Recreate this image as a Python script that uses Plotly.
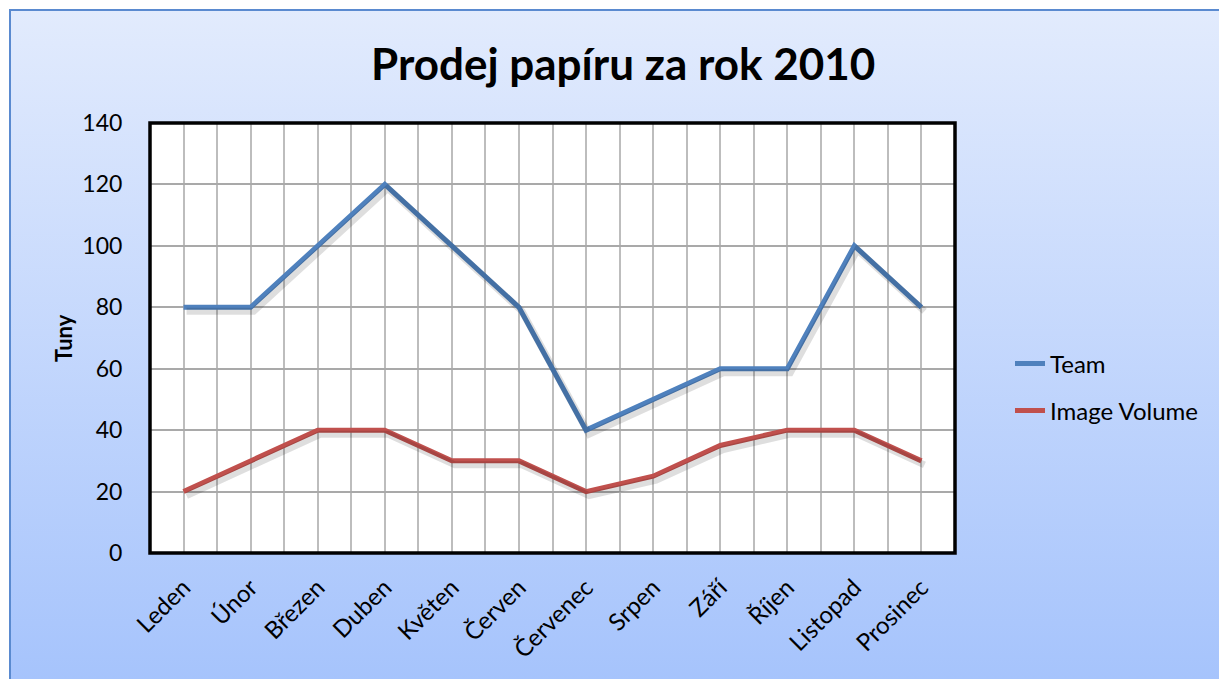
import plotly.graph_objects as go

months = ["Leden", "Únor", "Březen", "Duben", "Květen", "Červen",
          "Červenec", "Srpen", "Září", "Říjen", "Listopad", "Prosinec"]
team = [80, 80, 100, 120, 100, 80, 40, 50, 60, 60, 100, 80]
image_volume = [20, 30, 40, 40, 30, 30, 20, 25, 35, 40, 40, 30]
y_ticks = [0, 20, 40, 60, 80, 100, 120, 140]

OFF = 8  # default body margin of the html page
W, H = 1227, 679
L, R, T, B = 150 - OFF, 955 - OFF, 123 - OFF, 553 - OFF
FONT = "Lato"

x = list(range(len(months)))

def px_x(p):
    return (p - OFF - L) / (R - L)

def px_y(p):
    return (B - (p - OFF)) / (B - T)

fig = go.Figure()

# shadows (same data on slightly offset overlay axes)
dx_units = 3 * 12 / (R - L)
dy_units = 4 * 140 / (B - T)
for series in (team, image_volume):
    fig.add_trace(go.Scatter(x=x, y=series, mode="lines", xaxis="x2", yaxis="y2",
                             line=dict(color="rgba(0,0,0,0.13)", width=7),
                             showlegend=False, hoverinfo="skip"))

fig.add_trace(go.Scatter(x=x, y=team, mode="lines", name="Team",
                         line=dict(color="#4f81bd", width=5), legend="legend"))
fig.add_trace(go.Scatter(x=x, y=image_volume, mode="lines", name="Image Volume",
                         line=dict(color="#c0504d", width=5), legend="legend2"))

svg = ("data:image/svg+xml;utf8,<svg xmlns='http://www.w3.org/2000/svg' width='100' height='100' "
       "preserveAspectRatio='none'><defs><linearGradient id='g' x1='0' y1='0' x2='0' y2='1'>"
       "<stop offset='0' stop-color='%23e2ebfd'/><stop offset='1' stop-color='%23a5c3fc'/>"
       "</linearGradient></defs><rect width='100' height='100' fill='url(%23g)'/></svg>")

fig.update_layout(
    width=W, height=H,
    margin=dict(l=L, r=W - R, t=T, b=H - B),
    paper_bgcolor="white",
    plot_bgcolor="white",
    font=dict(family=FONT, color="black"),
    xaxis=dict(range=[-0.5, 11.5], tickvals=x, ticktext=months, tickangle=-45,
               showgrid=True, gridcolor="#bdbdbd", gridwidth=2,
               minor=dict(tick0=-0.5, dtick=1, showgrid=True, gridcolor="#bdbdbd", gridwidth=2),
               ticks="outside", ticklen=10, tickcolor="rgba(0,0,0,0)",
               tickfont=dict(size=24, family=FONT), zeroline=False, fixedrange=True),
    yaxis=dict(range=[0, 140], tickvals=y_ticks, showgrid=True, gridcolor="#a9a9a9", gridwidth=2,
               ticks="outside", ticklen=22, tickcolor="rgba(0,0,0,0)",
               tickfont=dict(size=23, family=FONT), zeroline=False, fixedrange=True),
    xaxis2=dict(overlaying="x", range=[-0.5 - dx_units, 11.5 - dx_units], visible=False),
    yaxis2=dict(overlaying="y", range=[dy_units, 140 + dy_units], visible=False),
    legend=dict(x=px_x(1010), y=px_y(364), xanchor="left", yanchor="middle",
                bgcolor="rgba(0,0,0,0)", font=dict(size=24, family=FONT)),
    legend2=dict(x=px_x(1010), y=px_y(411), xanchor="left", yanchor="middle",
                 bgcolor="rgba(0,0,0,0)", font=dict(size=24, family=FONT)),
    images=[dict(source=svg, xref="paper", yref="paper",
                 x=px_x(10), y=px_y(10), sizex=px_x(1240) - px_x(10), sizey=px_y(10) - px_y(690),
                 xanchor="left", yanchor="top", sizing="stretch", layer="below")],
    shapes=[
        dict(type="rect", xref="paper", yref="paper", x0=0, x1=1, y0=0, y1=1,
             fillcolor="white", line=dict(width=0), layer="below"),
        dict(type="rect", xref="paper", yref="paper", x0=px_x(10), x1=px_x(1240),
             y0=px_y(690), y1=px_y(10), fillcolor="rgba(0,0,0,0)",
             line=dict(color="#5a8ad0", width=2), layer="below"),
        dict(type="rect", xref="paper", yref="paper", x0=0, x1=1, y0=0, y1=1,
             fillcolor="rgba(0,0,0,0)", line=dict(color="black", width=3.5), layer="above"),
    ],
    annotations=[
        dict(text="<b>Prodej papíru za rok 2010</b>", xref="paper", yref="paper",
             x=px_x(623), y=px_y(63), xanchor="center", yanchor="middle", showarrow=False,
             font=dict(size=44, family=FONT, color="black")),
        dict(text="<b>Tuny</b>", xref="paper", yref="paper", x=px_x(63), y=px_y(338),
             xanchor="center", yanchor="middle", showarrow=False, textangle=-90,
             font=dict(size=22, family=FONT, color="black")),
    ],
)

fig.write_html("out.html")
